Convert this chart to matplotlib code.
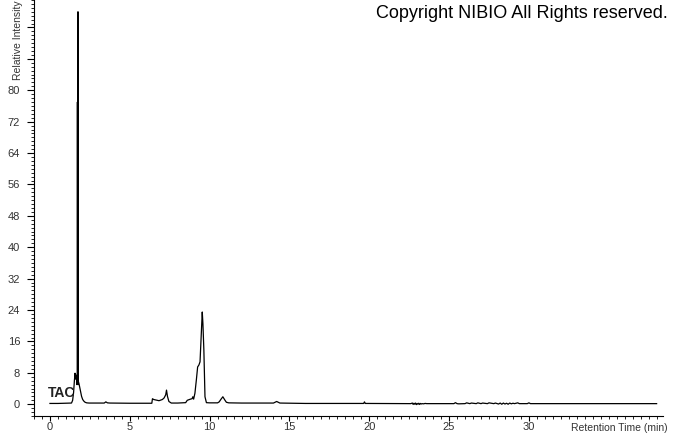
import numpy as np
import matplotlib as mpl
mpl.use('Agg')
import matplotlib.pyplot as plt
from matplotlib.ticker import MultipleLocator

mpl.rcParams['font.family'] = ['Liberation Sans', 'DejaVu Sans']

# retention time (min) and relative intensity
rt_main = [0.0, 0.5, 1.0, 1.35, 1.42, 1.48, 1.53, 1.57, 1.61, 1.65, 1.69,
           1.715, 1.72, 1.725, 1.745, 1.755, 1.76, 1.765, 1.78, 1.82, 1.87,
           1.92, 1.98, 2.05, 2.12, 2.2, 2.3, 2.45, 3.0, 3.4, 3.5, 3.6, 3.75,
           5.0, 6.38, 6.42, 6.5, 6.62, 6.83, 7.04, 7.15, 7.25, 7.3, 7.36,
           7.45, 7.6, 8.0, 8.5, 8.6, 8.8, 8.9, 8.95, 9.0, 9.08, 9.17, 9.25,
           9.33, 9.4, 9.48, 9.54, 9.58, 9.64, 9.71, 9.8, 10.0, 10.5, 10.6,
           10.7, 10.83, 10.95, 11.05, 11.2, 12.0, 14.0, 14.1, 14.2, 14.3,
           14.4, 16.0, 19.65, 19.7, 19.75, 22.6]
int_main = [0.2, 0.2, 0.25, 0.3, 1.0, 3.0, 6.0, 7.9, 6.4, 7.4, 5.0,
            6.0, 77.0, 5.2, 6.0, 100.0, 5.0, 5.6, 5.8, 5.2, 4.2,
            3.1, 2.0, 1.2, 0.8, 0.5, 0.35, 0.3, 0.3, 0.3, 0.6, 0.35, 0.3,
            0.25, 0.25, 1.4, 1.2, 1.1, 0.9, 1.2, 1.6, 2.4, 3.6, 2.0,
            0.7, 0.3, 0.3, 0.4, 1.0, 1.3, 1.4, 1.9, 1.3, 2.8, 6.2, 9.5,
            10.0, 10.8, 18.0, 23.5, 20.6, 13.8, 1.9, 0.4, 0.35, 0.35, 0.6,
            1.2, 1.9, 1.1, 0.5, 0.35, 0.3, 0.3, 0.5, 0.7, 0.5,
            0.3, 0.2, 0.2, 0.6, 0.2, 0.15]

rt_noise1 = [22.7, 22.75, 22.8, 22.85, 22.9, 22.95, 23.0, 23.05, 23.1, 23.15,
             23.2, 23.25, 23.3, 23.4, 23.5, 23.6]
int_noise1 = [0.3, -0.05, 0.25, 0.0, 0.3, -0.1, 0.2, 0.0, 0.25, -0.05,
              0.2, 0.05, 0.15, 0.1, 0.2, 0.15]

rt_noise2 = [25.3, 25.4, 25.5, 25.6, 26.0, 26.1, 26.3, 26.4, 26.7, 26.8,
             27.0, 27.1, 27.4, 27.5, 27.8, 27.9, 28.1, 28.2, 28.3, 28.4,
             28.5, 28.6, 28.7, 28.8, 28.9, 29.0, 29.1, 29.3, 29.4, 29.9,
             30.0, 30.1]
int_noise2 = [0.15, 0.4, 0.15, 0.1, 0.15, 0.35, 0.15, 0.3, 0.15, 0.35,
              0.15, 0.3, 0.15, 0.35, 0.15, 0.3, 0.05, 0.3, 0.0, 0.3,
              0.05, 0.25, 0.0, 0.3, 0.1, 0.25, 0.15, 0.35, 0.15, 0.15,
              0.35, 0.15]

rt_tail = [31.0, 35.0, 38.0]
int_tail = [0.15, 0.15, 0.15]

rt_min = np.array(rt_main + rt_noise1 + rt_noise2 + rt_tail)
intensity = np.array(int_main + int_noise1 + int_noise2 + int_tail)

x_labels = ['0', '5', '10', '15', '20', '25', '30']
y_labels = ['0', '8', '16', '24', '32', '40', '48', '56', '64', '72', '80']

W, H = 674, 434
fig = plt.figure(figsize=(W / 100, H / 100), dpi=100)
ax = fig.add_axes([34 / W, 18 / H, (663 - 34) / W, (H - 18) / H])

ax.plot(rt_min, intensity, color='black', lw=0.9)

ax.set_xlim(-1, 38.4)
ax.set_ylim(-3, 103)
for s in ['top', 'right']:
    ax.spines[s].set_visible(False)
for s in ['left', 'bottom']:
    ax.spines[s].set_linewidth(0.8)

ax.set_xticks([float(v) for v in x_labels])
ax.set_xticklabels(x_labels)
ax.xaxis.set_minor_locator(MultipleLocator(0.5))
ax.set_yticks([float(v) for v in y_labels] + [88, 96])
ax.set_yticklabels(y_labels + ['', ''])
ax.yaxis.set_minor_locator(MultipleLocator(1))
ax.tick_params(axis='both', which='major', width=0.8,
               labelsize=8, labelcolor='#333333')
ax.tick_params(axis='both', which='minor', length=2.5, width=0.6)
ax.tick_params(axis='y', which='major', length=5, pad=5)
ax.tick_params(axis='x', which='major', length=3.5, pad=0.5)
ax.tick_params(axis='x', which='minor', length=2)

ax.text(-0.15, 2.9, 'TAC', fontsize=10, fontweight='bold', va='center',
        ha='left', color='#222222')

fig.text(668 / W, 1 - 428 / H, 'Retention Time (min)', fontsize=7.5,
         color='#333333', ha='right', va='center')
fig.text(18 / W, 1.0, 'Relative Intensity', fontsize=7.5,
         color='#333333', rotation=90, ha='center', va='top')
fig.text(668 / W, 1 - 14 / H, 'Copyright NIBIO All Rights reserved.',
         fontsize=13, color='black', ha='right', va='center')

fig.savefig('out.png', dpi=100)
